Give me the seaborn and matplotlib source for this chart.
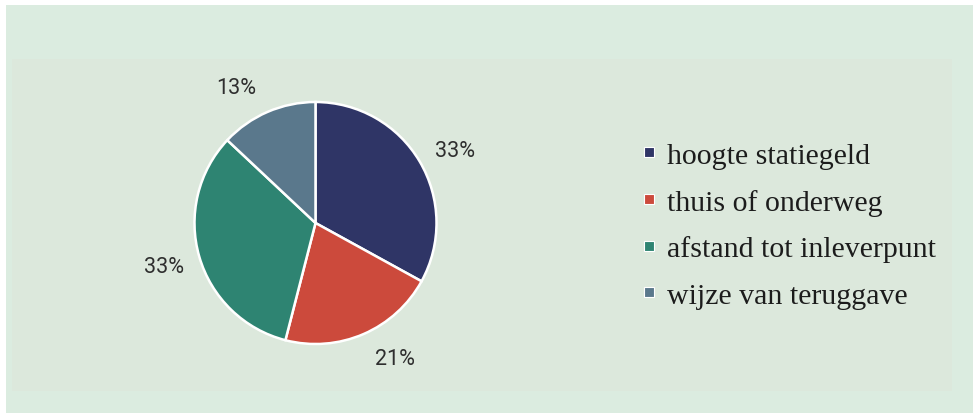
import matplotlib
matplotlib.use("Agg")
import numpy as np
import matplotlib.pyplot as plt
from matplotlib.patches import Rectangle
from matplotlib.lines import Line2D
import seaborn as sns

categories = ["hoogte statiegeld", "thuis of onderweg", "afstand tot inleverpunt", "wijze van teruggave"]
shares = [33, 21, 33, 13]
colors = ["#2f3566", "#cc4a3c", "#2e8472", "#5a788c"]

sns.set_theme(style="white")
plt.rcParams["font.family"] = ["Roboto", "DejaVu Sans"]

W, H = 973, 414
fig = plt.figure(figsize=(W / 100, H / 100), dpi=100)
fig.patch.set_facecolor("white")

# background panels (pixel coordinates converted to figure fractions)
def px_rect(x0, y0, x1, y1, color):
    fig.add_artist(Rectangle((x0 / W, 1 - y1 / H), (x1 - x0) / W, (y1 - y0) / H,
                             transform=fig.transFigure, facecolor=color,
                             edgecolor="none", zorder=-10))

px_rect(6, 6, W, H, "#dbece0")
px_rect(12, 60, 952, 392, "#dce8dc")

# pie axes
cx, cy, r = 315.5, 224, 121
lim = 1.4
size = 2 * r * lim
ax = fig.add_axes([(cx - size / 2) / W, (H - cy - size / 2) / H, size / W, size / H])
ax.set_facecolor("none")
wedges, _ = ax.pie(
    shares, colors=colors, startangle=90, counterclock=False,
    wedgeprops=dict(edgecolor="white", linewidth=1.8),
)

# percentage labels outside the wedges, nudged a little off the bisector
label_shift = [-3, 7, 0, 7]
for w, v, d in zip(wedges, shares, label_shift):
    ang = np.deg2rad((w.theta1 + w.theta2) / 2 + d)
    ax.text(1.3 * np.cos(ang), 1.3 * np.sin(ang), f"{v}%", ha="center", va="center",
            fontsize=15.5, color="#2e2e2e")

ax.set_xlim(-lim, lim)
ax.set_ylim(-lim, lim)
ax.set_aspect("equal")
ax.axis("off")

handles = [Line2D([0], [0], marker="s", linestyle="none", markersize=7,
                  markerfacecolor=c, markeredgecolor="white", markeredgewidth=0.8)
           for c in colors]
leg = fig.legend(handles, categories, loc="upper left",
                 bbox_to_anchor=(640 / W, 1 - 143 / H), frameon=False,
                 prop=dict(family=["Liberation Serif", "DejaVu Serif"], size=21.5),
                 labelcolor="#1c1c1c", handlelength=0.6, handletextpad=0.3,
                 labelspacing=0.66, borderpad=0, borderaxespad=0)

fig.savefig("out.png", dpi=100, facecolor=fig.get_facecolor())
